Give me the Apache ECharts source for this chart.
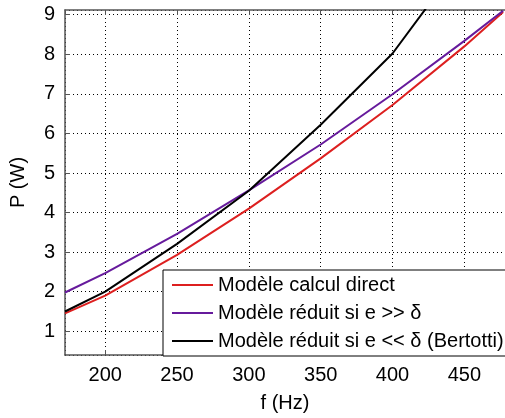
<!DOCTYPE html>
<html><head><meta charset="utf-8">
<script src="https://cdn.jsdelivr.net/npm/echarts@6/dist/echarts.min.js"></script>
<style>html,body{margin:0;padding:0;background:#fff}#c{width:505px;height:418px}</style>
</head><body><div id="c"></div>
<script>
// Data
const freqs = [172, 200, 250, 300, 350, 400, 450, 477];
const directValues = [1.45, 1.90, 2.93, 4.10, 5.37, 6.72, 8.20, 9.07];
const reduitGrandValues = [1.98, 2.47, 3.46, 4.56, 5.72, 6.99, 8.34, 9.10];
const bertottiFreqs = [172, 200, 250, 300, 350, 400, 450];
const bertottiValues = [1.50, 2.00, 3.21, 4.55, 6.22, 8.02, 10.47];
const seriesNames = [
  'Modèle calcul direct',
  'Modèle réduit si e >> δ',
  'Modèle réduit si e << δ (Bertotti)'
];
const xTitle = 'f (Hz)';
const yTitle = 'P (W)';

const font = '"Liberation Sans", Arial, sans-serif';
const pair = (xs, ys) => xs.map((x, i) => [x, ys[i]]);
const chart = echarts.init(document.getElementById('c'), null, {renderer: 'canvas'});
const gridLine = {show: true, lineStyle: {color: '#000', width: 1, type: [1, 3]}};
const xBase = {type: 'value', min: 172, max: 478.3, splitNumber: 6};
chart.setOption({
  animation: false,
  backgroundColor: '#fff',
  grid: {left: 57, top: 10, right: 0, bottom: 54},
  xAxis: [
    Object.assign({}, xBase, {
      position: 'bottom',
      name: xTitle, nameLocation: 'middle', nameGap: 38,
      nameTextStyle: {fontFamily: font, fontSize: 20, color: '#000'},
      axisLine: {show: true, lineStyle: {color: '#555', width: 1.5}},
      axisTick: {show: true, inside: true, length: 5, lineStyle: {color: '#555'}},
      axisLabel: {fontFamily: font, fontSize: 20, color: '#000', margin: 10, showMinLabel: false, showMaxLabel: false},
      splitLine: gridLine
    }),
    Object.assign({}, xBase, {
      position: 'top',
      axisLine: {show: true, onZero: false, lineStyle: {color: '#555', width: 1.5}},
      axisTick: {show: true, inside: true, length: 5, lineStyle: {color: '#555'}},
      axisLabel: {show: false},
      splitLine: {show: false}
    })
  ],
  yAxis: {
    type: 'value', min: 0.4, max: 9.12, splitNumber: 9,
    name: yTitle, nameLocation: 'middle', nameGap: 37, nameRotate: 90,
    nameTextStyle: {fontFamily: font, fontSize: 20, color: '#000'},
    axisLine: {show: true, lineStyle: {color: '#555', width: 1.5}},
    axisTick: {show: true, inside: true, length: 5, lineStyle: {color: '#555'}},
    axisLabel: {fontFamily: font, fontSize: 20, color: '#000', margin: 10, showMinLabel: false, showMaxLabel: false},
    splitLine: gridLine
  },
  legend: {
    orient: 'vertical', left: 163, top: 270,
    padding: [5, 6, 5, 9], itemGap: 8,
    itemWidth: 41, itemHeight: 2, icon: 'rect',
    backgroundColor: '#fff', borderColor: '#000', borderWidth: 1,
    textStyle: {fontFamily: font, fontSize: 20, color: '#000', lineHeight: 20},
    data: seriesNames
  },
  series: [
    {name: seriesNames[0], type: 'line', data: pair(freqs, directValues), symbol: 'none', clip: true,
     lineStyle: {color: '#dd1f1f', width: 2}, itemStyle: {color: '#dd1f1f'}},
    {name: seriesNames[1], type: 'line', data: pair(freqs, reduitGrandValues), symbol: 'none', clip: true,
     lineStyle: {color: '#661a9c', width: 2}, itemStyle: {color: '#661a9c'}},
    {name: seriesNames[2], type: 'line', data: pair(bertottiFreqs, bertottiValues), symbol: 'none', clip: true,
     lineStyle: {color: '#000', width: 2}, itemStyle: {color: '#000'}}
  ]
});
</script></body></html>
